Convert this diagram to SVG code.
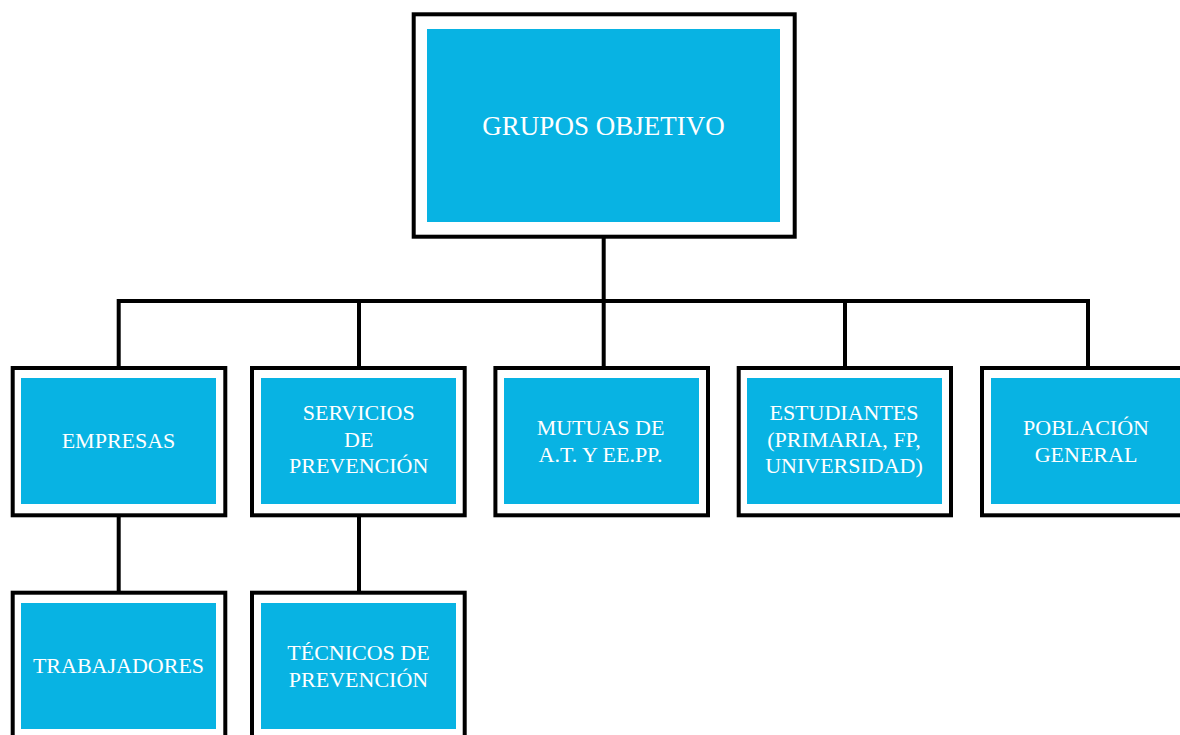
<svg xmlns="http://www.w3.org/2000/svg" width="1180" height="735" viewBox="0 0 1180 735">
<style>
.frame{fill:#fff;stroke:#000;stroke-width:4}
.fill{fill:#08b3e3}
.lbl{font-family:"Liberation Serif","Times New Roman",serif;font-size:22px;fill:#fff;text-anchor:middle}
.big{font-size:27px}
.conn{fill:none;stroke:#000;stroke-width:4;stroke-linecap:square;stroke-linejoin:miter}
</style>
<rect width="1180" height="735" fill="#fff"/>
<g id="connectors">
<path class="conn" d="M603.7 238 V366"/>
<path class="conn" d="M118.7 366 V301 H1088 V366"/>
<path class="conn" d="M359 301 V366"/>
<path class="conn" d="M845 301 V366"/>
<path class="conn" d="M118.7 517 V591"/>
<path class="conn" d="M359 517 V591"/>
</g>
<g id="grupos-objetivo">
<rect class="frame" x="413.7" y="14.3" width="381" height="222.4"/>
<rect class="fill" x="427" y="29" width="353" height="193"/>
<text class="lbl big" x="603.5" y="135">GRUPOS OBJETIVO</text>
</g>
<g id="empresas">
<rect class="frame" x="12.7" y="368" width="212.6" height="147.3"/>
<rect class="fill" x="21" y="378" width="195" height="126"/>
<text class="lbl" x="118.5" y="448.3">EMPRESAS</text>
</g>
<g id="servicios-prevencion">
<rect class="frame" x="252" y="368" width="212.7" height="147.3"/>
<rect class="fill" x="261" y="378" width="195" height="126"/>
<text class="lbl" x="358.7" y="420">SERVICIOS</text>
<text class="lbl" x="358.7" y="446.7">DE</text>
<text class="lbl" x="358.7" y="473.3">PREVENCIÓN</text>
</g>
<g id="mutuas">
<rect class="frame" x="495.4" y="368" width="212.6" height="147.3"/>
<rect class="fill" x="504" y="378" width="195" height="126"/>
<text class="lbl" x="600.5" y="434.5">MUTUAS DE</text>
<text class="lbl" x="600.5" y="461.5">A.T. Y EE.PP.</text>
</g>
<g id="estudiantes">
<rect class="frame" x="738.7" y="368" width="212.3" height="147.3"/>
<rect class="fill" x="747" y="378" width="195" height="126"/>
<text class="lbl" x="844" y="419.5">ESTUDIANTES</text>
<text class="lbl" x="844" y="446.7">(PRIMARIA, FP,</text>
<text class="lbl" x="844" y="473.3">UNIVERSIDAD)</text>
</g>
<g id="poblacion-general">
<rect class="frame" x="982" y="368" width="212.6" height="147.3"/>
<rect class="fill" x="991" y="378" width="195" height="126"/>
<text class="lbl" x="1086" y="434.5">POBLACIÓN</text>
<text class="lbl" x="1086" y="461.5">GENERAL</text>
</g>
<g id="trabajadores">
<rect class="frame" x="12.7" y="592.7" width="212.6" height="147.3"/>
<rect class="fill" x="21" y="603" width="195" height="126"/>
<text class="lbl" x="118.5" y="672.7">TRABAJADORES</text>
</g>
<g id="tecnicos-prevencion">
<rect class="frame" x="252" y="592.7" width="212.7" height="147.3"/>
<rect class="fill" x="261" y="603" width="195" height="126"/>
<text class="lbl" x="358.5" y="660">TÉCNICOS DE</text>
<text class="lbl" x="358.5" y="686.7">PREVENCIÓN</text>
</g>
</svg>
